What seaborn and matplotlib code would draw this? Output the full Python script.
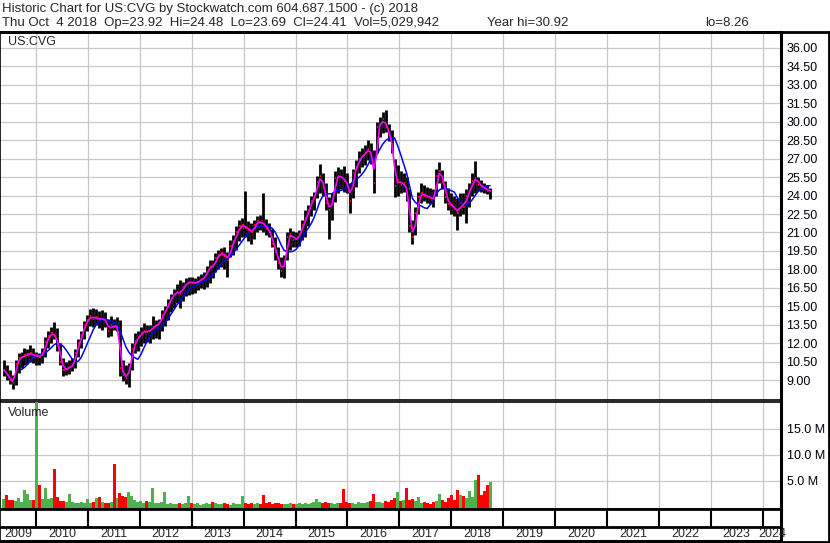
import numpy as np
import pandas as pd
import matplotlib
matplotlib.use("Agg")
import matplotlib.pyplot as plt
import matplotlib.dates as mdates
import seaborn as sns
from matplotlib.lines import Line2D

# ---------------- data (3-week bars) ----------------
bar_end = "2018-10-01"
lo = [9.3, 9.0, 8.7, 8.26, 8.6, 9.6, 10.0, 10.2, 10.3, 10.5,
      10.4, 10.2, 10.2, 10.4, 10.9, 11.6, 12.0, 12.3, 11.4, 10.2,
      9.3, 9.4, 9.5, 9.7, 10.0, 10.9, 11.6, 12.3, 13.0, 13.4,
      13.3, 13.5, 13.2, 13.1, 13.3, 12.5, 12.6, 13.1, 13.0, 9.3,
      8.9, 8.7, 8.4, 9.8, 11.2, 11.4, 11.8, 12.0, 12.1, 12.0,
      12.3, 12.4, 12.3, 13.0, 13.4, 13.9, 14.5, 14.9, 15.3, 14.9,
      15.4, 15.8, 15.9, 16.0, 16.1, 16.3, 16.5, 16.4, 16.6, 16.9,
      17.3, 17.8, 18.0, 18.2, 18.0, 17.4, 19.0, 19.2, 19.6, 20.3,
      20.6, 20.6, 20.3, 20.1, 20.5, 21.0, 21.2, 21.0, 20.8, 20.6,
      19.8, 18.8, 18.0, 17.4, 17.3, 18.8, 19.6, 19.8, 19.8, 19.9,
      20.4, 20.6, 21.5, 22.3, 22.8, 23.8, 24.2, 24.0, 22.8, 20.5,
      22.0, 23.5, 24.2, 24.5, 24.3, 24.2, 22.6, 23.8, 24.7, 25.8,
      26.3, 26.5, 26.9, 26.6, 24.2, 27.5, 28.8, 29.1, 29.2, 28.4,
      27.5, 23.9, 24.0, 24.2, 24.3, 23.6, 21.0, 20.1, 20.8, 22.5,
      23.4, 23.6, 23.4, 23.3, 23.1, 24.0, 25.0, 24.5, 23.4, 22.8,
      22.5, 22.3, 21.2, 22.3, 22.5, 21.8, 23.1, 24.0, 24.2, 24.4,
      24.3, 24.2, 24.1, 23.69]
hi = [10.6, 10.2, 9.8, 9.4, 10.6, 11.2, 11.3, 11.6, 11.5, 11.85,
      11.6, 11.3, 11.2, 11.6, 12.5, 13.0, 13.3, 13.7, 13.2, 12.0,
      10.8, 10.5, 10.6, 10.8, 11.5, 12.3, 13.0, 13.8, 14.3, 14.8,
      14.9, 14.8, 14.6, 14.7, 14.5, 14.0, 14.2, 14.0, 14.1, 13.9,
      10.6, 10.2, 10.4, 12.0, 12.8, 13.0, 13.3, 13.6, 13.5, 13.5,
      14.2, 13.9, 14.0, 14.7, 15.0, 15.6, 16.0, 16.4, 16.8, 17.1,
      17.0, 17.3, 17.4, 17.4, 17.3, 17.5, 17.6, 17.8, 18.3, 18.8,
      18.8, 19.3, 19.6, 19.7, 19.8, 19.4, 20.4, 20.8, 21.5, 22.0,
      22.2, 24.4, 21.9, 21.8, 22.0, 22.3, 22.4, 24.2, 22.1, 21.8,
      21.3, 20.6, 19.8, 19.0, 19.2, 21.0, 21.4, 21.1, 21.0, 21.2,
      22.0, 22.8, 23.2, 24.0, 24.3, 25.6, 26.6, 25.8, 25.0, 23.9,
      24.2, 26.0, 26.3, 26.2, 26.4, 25.8, 25.0, 26.2, 26.9, 27.6,
      27.9, 28.1, 28.5, 28.3, 27.7, 30.0, 30.4, 30.8, 30.92, 29.8,
      29.3, 27.0, 26.5, 26.0, 25.8, 25.5, 24.5, 22.0, 23.1, 24.3,
      25.0, 24.9, 24.7, 24.6, 24.5, 26.2, 26.7, 26.1, 25.2, 24.6,
      24.2, 24.0, 23.8, 24.2, 24.2, 24.5, 25.0, 25.8, 26.8, 25.5,
      25.3, 25.0, 24.9, 24.6]
close = [9.8, 9.4, 9.0, 8.8, 10.3, 10.8, 10.9, 11.0, 11.1, 11.2,
         10.9, 11.0, 10.9, 11.2, 12.1, 12.6, 12.8, 12.6, 11.8, 10.5,
         9.8, 9.9, 10.1, 10.2, 11.2, 12.0, 12.7, 13.5, 13.9, 14.2,
         14.0, 14.1, 13.9, 14.0, 13.8, 13.0, 13.5, 13.3, 13.4, 10.0,
         9.4, 9.2, 10.0, 11.5, 12.2, 12.5, 12.8, 13.0, 12.9, 13.1,
         13.3, 13.5, 13.6, 14.3, 14.6, 15.2, 15.7, 16.0, 16.2, 16.0,
         16.6, 16.8, 17.0, 16.9, 16.9, 17.0, 17.2, 17.3, 17.8, 18.3,
         18.2, 18.9, 19.2, 19.3, 19.1, 18.8, 19.9, 20.3, 21.0, 21.5,
         21.6, 21.4, 21.2, 21.0, 21.6, 21.9, 21.8, 21.7, 21.3, 21.0,
         20.1, 19.4, 18.5, 17.9, 18.6, 20.6, 20.9, 20.4, 20.5, 20.8,
         21.6, 22.2, 22.8, 23.6, 23.9, 25.1, 25.6, 24.6, 23.4, 22.8,
         23.6, 25.4, 25.6, 25.5, 25.2, 24.9, 23.6, 25.8, 26.3, 27.0,
         27.2, 27.5, 27.8, 27.3, 25.0, 29.6, 29.8, 30.2, 29.6, 28.9,
         27.9, 24.8, 25.3, 24.9, 25.0, 24.2, 21.5, 20.6, 22.6, 23.9,
         24.2, 24.0, 23.9, 23.8, 23.7, 25.6, 26.0, 25.1, 23.9, 23.3,
         23.2, 22.9, 22.6, 23.4, 23.1, 24.0, 24.4, 25.2, 25.4, 24.9,
         24.7, 24.6, 24.4, 24.41]
volume_m = [1.8, 2.5, 1.5, 1.6, 1.4, 1.9, 1.2, 3.5, 2.7, 1.6,
            1.5, 22.0, 4.5, 1.8, 3.8, 1.7, 1.9, 7.6, 2.2, 1.3,
            1.4, 1.2, 2.8, 1.1, 1.0, 0.9, 1.1, 0.9, 1.8, 1.0,
            1.2, 2.0, 2.2, 1.1, 0.9, 1.0, 1.2, 8.5, 1.9, 2.9,
            2.4, 2.2, 3.0, 2.3, 1.6, 1.2, 1.3, 1.0, 1.4, 1.1,
            3.8, 1.0, 0.9, 1.1, 3.0, 0.8, 0.9, 0.7, 0.8, 1.0,
            0.8, 0.9, 2.4, 1.0, 0.7, 0.9, 0.6, 0.8, 0.9, 0.7,
            1.1, 0.9, 0.8, 0.7, 1.0, 0.8, 0.6, 0.9, 0.7, 0.8,
            2.4, 1.0, 0.8, 0.9, 0.7, 1.0, 0.8, 2.6, 0.9, 1.1,
            0.8, 1.0, 0.9, 0.7, 0.8, 0.7, 1.0, 0.8, 0.7, 0.9,
            0.8, 0.9, 0.7, 1.0, 1.2, 1.7, 1.1, 0.9, 1.2, 1.0,
            0.9, 0.8, 1.0, 0.9, 3.7, 1.2, 1.0, 0.9, 0.8, 1.2,
            0.9, 1.0, 1.1, 1.4, 2.8, 1.1, 1.2, 1.0, 1.3, 1.1,
            1.5, 2.0, 3.1, 1.3, 1.6, 3.9, 1.5, 1.7, 1.4, 2.1,
            1.0, 1.2, 0.9, 0.8, 1.1, 1.4, 2.8, 1.6, 1.2, 2.0,
            2.6, 1.5, 3.5, 2.5, 2.4, 2.0, 3.2, 2.2, 5.4, 6.4,
            2.6, 3.2, 4.5, 5.0]
price_ticks = [9.00, 10.50, 12.00, 13.50, 15.00, 16.50, 18.00, 19.50, 21.00,
               22.50, 24.00, 25.50, 27.00, 28.50, 30.00, 31.50, 33.00, 34.50, 36.00]
volume_ticks = [5, 10, 15]
years = list(range(2009, 2025))
symbol = "US:CVG"
header1 = "Historic Chart for US:CVG by Stockwatch.com 604.687.1500 - (c) 2018"
header2_fields = ["Thu Oct  4 2018  Op=23.92  Hi=24.48  Lo=23.69  Cl=24.41  Vol=5,029,942",
                  "Year hi=30.92", "lo=8.26"]
header2_x = [2, 487, 705]

# ---------------- figure ----------------
sns.set_style("white")
plt.rcParams["font.family"] = ["Liberation Sans", "DejaVu Sans"]

W, H = 830, 543
fig = plt.figure(figsize=(W / 100, H / 100), dpi=100)


def rect(x0, y0, x1, y1):
    return [x0 / W, 1 - y1 / H, (x1 - x0) / W, (y1 - y0) / H]


dates = pd.date_range(end=bar_end, periods=len(close), freq="21D")
xd = mdates.date2num(dates)
df = pd.DataFrame({"x": xd, "lo": lo, "hi": hi, "close": close, "vol": volume_m})
df["ma_short"] = df["close"].rolling(2, min_periods=1).mean()
df["ma_long"] = df["close"].rolling(7).mean()
up = df["close"].diff().fillna(0) >= 0

px_per_year = 51.91
day_per_px = 365.25 / px_per_year
x_left = mdates.date2num(pd.Timestamp("2010-01-01")) - 36 * day_per_px
x_right = x_left + 781 * day_per_px
year_x = [mdates.date2num(pd.Timestamp(f"{y}-01-01")) for y in years[1:]]

grid_c = "#c8c8c8"

# price panel
ax_p = fig.add_axes(rect(0, 32, 781, 400))
ax_p.set_xlim(x_left, x_right)
ax_p.set_ylim(7.38, 37.3)
ax_p.set_yticks(price_ticks)
ax_p.set_yticklabels([f"{v:.2f}" for v in price_ticks])
ax_p.yaxis.tick_right()
ax_p.set_xticks(year_x)
ax_p.set_xticklabels([])
ax_p.tick_params(axis="both", length=0, labelsize=9, pad=4, labelcolor="#000010")
ax_p.grid(True, color=grid_c, lw=0.9)
ax_p.set_axisbelow(True)

ax_p.vlines(df["x"], df["lo"], df["hi"], color="black", lw=2.0, zorder=3)
ax_p.hlines(df["close"], df["x"], df["x"] + 1.3 * day_per_px, color="#ff0000", lw=1.4, zorder=4)
sns.lineplot(data=df, x="x", y="ma_long", ax=ax_p, color="#0000ff", lw=1.1, zorder=5)
sns.lineplot(data=df, x="x", y="ma_short", ax=ax_p, color="#ff00ff", lw=1.2, zorder=6)
ax_p.set_xlabel("")
ax_p.set_ylabel("")
ax_p.text(8 / 781, 1 - 10 / 368, symbol, transform=ax_p.transAxes, fontsize=9,
          va="center", ha="left")

# volume panel
ax_v = fig.add_axes(rect(0, 402, 781, 509))
ax_v.set_xlim(x_left, x_right)
ax_v.set_ylim(-0.48, 20.1)
ax_v.set_yticks(volume_ticks)
ax_v.set_yticklabels([f"{v:.1f} M" for v in volume_ticks])
ax_v.yaxis.tick_right()
ax_v.set_xticks(year_x)
ax_v.set_xticklabels([])
ax_v.tick_params(axis="both", length=0, labelsize=9, pad=4, labelcolor="#000010")
ax_v.grid(True, color=grid_c, lw=0.9)
ax_v.set_axisbelow(True)
vcol = np.where(up, "#4cb34c", "#ff0000")
ax_v.bar(df["x"], df["vol"], width=3.0 * day_per_px, color=vcol, bottom=-0.3,
         linewidth=0, zorder=3)
ax_v.text(8 / 781, 1 - 11 / 107, "Volume", transform=ax_v.transAxes, fontsize=9,
          va="center", ha="left")

# x strip
ax_x = fig.add_axes(rect(0, 509, 781, 541))
ax_x.set_xlim(x_left, x_right)
ax_x.set_ylim(0, 1)
ax_x.set_xticks([])
ax_x.set_yticks([])
row = 1 - 18 / 32
ax_x.axhline(row, color="black", lw=2)
ax_x.vlines(year_x, row, 1, color="black", lw=1.5)
bounds = [x_left] + year_x + [x_right]
for i, y in enumerate(years):
    ax_x.text((bounds[i] + bounds[i + 1]) / 2, row / 2, str(y), fontsize=9,
              ha="center", va="center")

for ax in (ax_p, ax_v, ax_x):
    for s in ax.spines.values():
        s.set_color("black")
        s.set_linewidth(1.2)
    ax.spines["right"].set_linewidth(2.2)
ax_p.spines["top"].set_linewidth(2)
ax_x.spines["top"].set_linewidth(2)
ax_x.spines["bottom"].set_linewidth(2.2)

# outer frame lines
fig.add_artist(Line2D([0, 1], [1 - 32 / H, 1 - 32 / H], color="black", lw=2))
fig.add_artist(Line2D([1 - 1.5 / W, 1 - 1.5 / W], [1 - 541 / H, 1 - 32 / H], color="black", lw=2))
fig.add_artist(Line2D([0, 1], [1 - 541.5 / H, 1 - 541.5 / H], color="black", lw=2))

fig.text(2 / W, 1 - 9 / H, header1, fontsize=9.5, va="center", ha="left")
for t, xp in zip(header2_fields, header2_x):
    fig.text(xp / W, 1 - 23 / H, t, fontsize=9.5, va="center", ha="left")

fig.savefig("out.png", dpi=100)
